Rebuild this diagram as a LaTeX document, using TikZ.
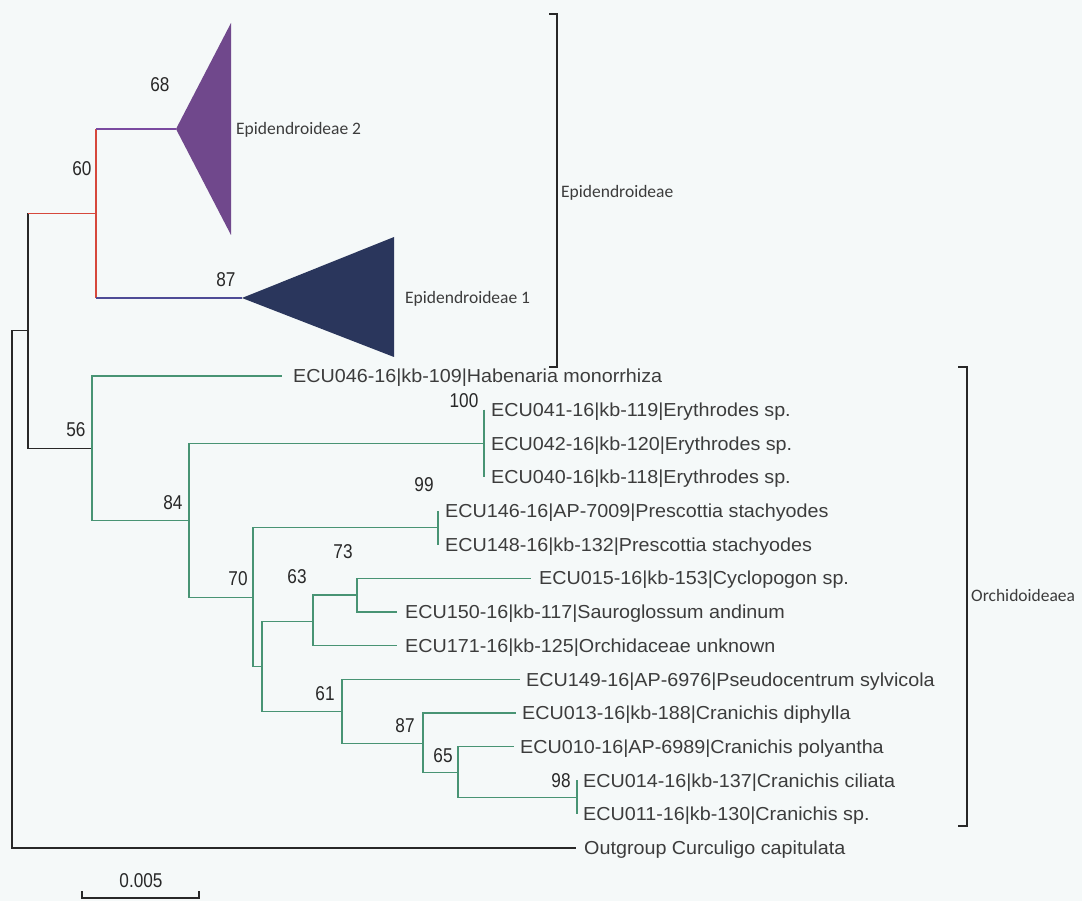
\documentclass[tikz,border=0pt]{standalone}
\usepackage{fontspec}
\newfontfamily\leaffont[FakeStretch=1.05]{Liberation Sans}
\newfontfamily\numfont[FakeStretch=0.86]{Liberation Sans}
\newfontfamily\cladefont{Carlito}
\definecolor{bgc}{RGB}{245,249,249}
\definecolor{grn}{RGB}{72,148,116}
\definecolor{redc}{RGB}{214,72,60}
\definecolor{purl}{RGB}{122,74,160}
\definecolor{blul}{RGB}{78,76,150}
\definecolor{purf}{RGB}{112,72,140}
\definecolor{navf}{RGB}{42,54,92}
\definecolor{blk}{RGB}{40,40,40}
\definecolor{txt}{RGB}{60,60,60}
\begin{document}
\begin{tikzpicture}[x=1pt,y=-1pt,
  bl/.style={draw=blk,line width=1.4pt},
  gl/.style={draw=grn,line width=1.4pt},
  leaf/.style={anchor=west,inner sep=0pt,text height=13.5pt,text depth=0pt,text=txt,font=\leaffont\fontsize{18.8}{22}\selectfont},
  boot/.style={inner sep=0pt,text height=14.3pt,text depth=0pt,text=blk,font=\numfont\fontsize{20}{22}\selectfont},
  clade/.style={anchor=west,inner sep=0pt,text height=11.3pt,text depth=0pt,text=txt,font=\cladefont\fontsize{17.5}{20}\selectfont}]
\useasboundingbox (0,0) rectangle (1082,901);
\fill[bgc] (0,0) rectangle (1082,901);
% internal nodes
\coordinate (root) at (12,589);
\coordinate (nA) at (28,330.5);
\coordinate (nEpi) at (96,213.5);
\coordinate (n56) at (92,448.2);
\coordinate (n84) at (189,520.4);
\coordinate (n70) at (253,597.5);
\coordinate (n62) at (262,666.6);
\coordinate (n63) at (313,621.5);
\coordinate (n73) at (357,595);
\coordinate (n61) at (342,711.7);
\coordinate (n87) at (423,743.4);
\coordinate (n65) at (458,772.7);
% tips
\coordinate (tE2) at (176,129);
\coordinate (e2a) at (231,23);
\coordinate (e2b) at (231,235);
\coordinate (tE1) at (242,298);
\coordinate (e1a) at (394,237);
\coordinate (e1b) at (394,357);
\coordinate (hab) at (282,376);
\coordinate (nE) at (484,443.4);
\coordinate (lE41) at (484,409.7);
\coordinate (lE40) at (484,477.1);
\coordinate (nP) at (438,527.6);
\coordinate (lP146) at (438,510.8);
\coordinate (lP148) at (438,544.5);
\coordinate (cyc) at (531,578.2);
\coordinate (sau) at (397,611.9);
\coordinate (o171) at (397,645.6);
\coordinate (p149) at (520,679.3);
\coordinate (c013) at (516,713);
\coordinate (c010) at (514,746.7);
\coordinate (n98) at (577,797.3);
\coordinate (c014) at (577,780.4);
\coordinate (c011) at (577,814.1);
\coordinate (out) at (576,847.8);
% triangles
\fill[purf] (tE2) -- (e2a) -- (e2b) -- cycle;
\fill[navf] (tE1) -- (e1a) -- (e1b) -- cycle;
% black part
\draw[bl] (nA) -| (root) |- (out);
\draw[bl] (nEpi -| nA) -- (nA) -- (n56 -| nA) -- (n56);
% red / coloured part
\draw[draw=redc,line width=1.3pt] (nEpi -| nA) -- (nEpi);
\draw[draw=redc,line width=1.3pt] (nEpi |- tE2) -- (nEpi |- tE1);
\draw[draw=purl,line width=1.3pt] (nEpi |- tE2) -- (tE2);
\draw[draw=blul,line width=1.3pt] (nEpi |- tE1) -- (tE1);
% green part
\draw[gl] (n56) |- (hab);
\draw[gl] (n56) |- (n84);
\draw[gl] (n84) |- (nE);
\draw[gl] (n84) |- (n70);
\draw[gl] (lE41) -- (lE40);
\draw[gl] (n70) |- (nP);
\draw[gl] (n70) |- (n62);
\draw[gl] (lP146) -- (lP148);
\draw[gl] (n62) |- (n63);
\draw[gl] (n62) |- (n61);
\draw[gl] (n63) |- (n73);
\draw[gl] (n63) |- (o171);
\draw[gl] (n73) |- (cyc);
\draw[gl] (n73) |- (sau);
\draw[gl] (n61) |- (p149);
\draw[gl] (n61) |- (n87);
\draw[gl] (n87) |- (c013);
\draw[gl] (n87) |- (n65);
\draw[gl] (n65) |- (c010);
\draw[gl] (n65) |- (n98);
\draw[gl] (c014) -- (c011);
% clade labels
\node[clade] (LE2) at (236,129) {Epidendroideae 2};
\node[clade] (LE1) at (405,298) {Epidendroideae 1};
% leaf labels
\node[leaf] (Lhab) at (293,376) {ECU046-16|kb-109|Habenaria monorrhiza};
\node[leaf] (L41) at (491,409.7) {ECU041-16|kb-119|Erythrodes sp.};
\node[leaf] (L42) at (491,443.4) {ECU042-16|kb-120|Erythrodes sp.};
\node[leaf] (L40) at (491,477.1) {ECU040-16|kb-118|Erythrodes sp.};
\node[leaf] (L146) at (445,510.8) {ECU146-16|AP-7009|Prescottia stachyodes};
\node[leaf] (L148) at (445,544.5) {ECU148-16|kb-132|Prescottia stachyodes};
\node[leaf] (L015) at (539,578.2) {ECU015-16|kb-153|Cyclopogon sp.};
\node[leaf] (L150) at (405,611.9) {ECU150-16|kb-117|Sauroglossum andinum};
\node[leaf] (L171) at (405,645.6) {ECU171-16|kb-125|Orchidaceae unknown};
\node[leaf] (L149) at (526,679.3) {ECU149-16|AP-6976|Pseudocentrum sylvicola};
\node[leaf] (L013) at (522,713) {ECU013-16|kb-188|Cranichis diphylla};
\node[leaf] (L010) at (520,746.7) {ECU010-16|AP-6989|Cranichis polyantha};
\node[leaf] (L014) at (583,780.4) {ECU014-16|kb-137|Cranichis ciliata};
\node[leaf] (L011) at (583,814.1) {ECU011-16|kb-130|Cranichis sp.};
\node[leaf] (Lout) at (584,847.8) {Outgroup Curculigo capitulata};
% bootstrap values
\node[boot] (b68) at (160,84) {68};
\node[boot] (b60) at (82,168) {60};
\node[boot] (b87a) at (226,279) {87};
\node[boot] (b56) at (76,429) {56};
\node[boot] (b100) at (464,400) {100};
\node[boot] (b84) at (173,502) {84};
\node[boot] (b99) at (424,484) {99};
\node[boot] (b73) at (343,551) {73};
\node[boot] (b70) at (238,578) {70};
\node[boot] (b63) at (297,576) {63};
\node[boot] (b61) at (325,693) {61};
\node[boot] (b87b) at (405,725) {87};
\node[boot] (b65) at (443,755) {65};
\node[boot] (b98) at (561,780) {98};
% brackets
\coordinate (bEt) at (557,14);
\coordinate (bEb) at (557,367);
\draw[bl,line width=1.2pt] (549,14) -- (bEt) -- (bEb) -- (549,367);
\node[clade] (LEpi) at (561,192) {Epidendroideae};
\coordinate (bOt) at (967,367);
\coordinate (bOb) at (967,826);
\draw[bl,line width=1.2pt] (958,367) -- (bOt) -- (bOb) -- (958,826);
\node[clade] (LOrc) at (971,596) {Orchidoideaea};
% scale bar
\coordinate (sL) at (82,898);
\coordinate (sR) at (199,898);
\draw[bl,line width=1.2pt] (82,891) -- (sL) -- (sR) -- (199,891);
\node[boot] (Lsc) at (141,880) {0.005};
\end{tikzpicture}
\end{document}
